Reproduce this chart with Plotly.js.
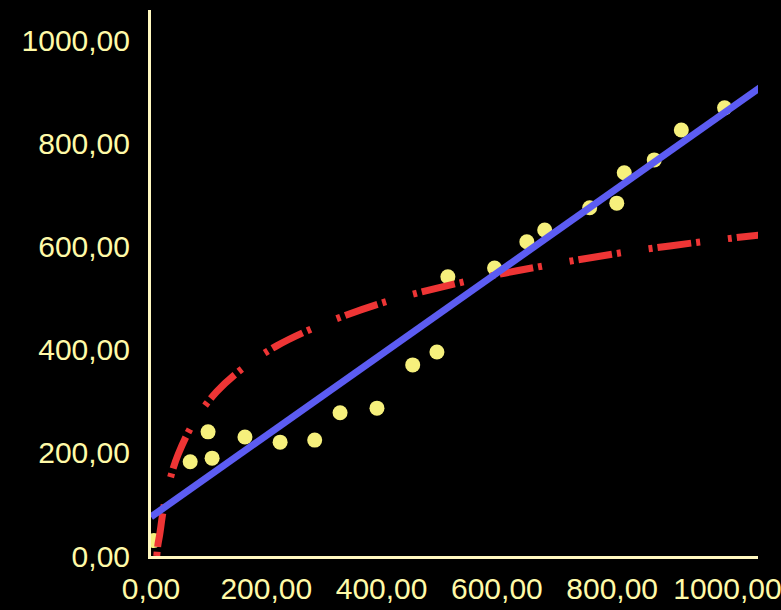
<!DOCTYPE html>
<html>
<head>
<meta charset="utf-8">
<script src="https://cdn.plot.ly/plotly-3.0.1.min.js"></script>
<style>html,body{margin:0;padding:0;background:#000;}#chart{width:781px;height:610px;}</style>
</head>
<body>
<div id="chart"></div>
<script>
// Observed data points
var pointsX = [5, 68, 99, 106, 163, 224, 284, 328, 392, 454, 496, 515, 596, 652, 683, 761, 808, 821, 873, 920, 995];
var pointsY = [30, 183, 241, 190, 231, 221, 225, 278, 287, 371, 396, 542, 559, 610, 633, 676, 685, 744, 769, 827, 870];

// Linear trend line
var linearX = [0, 1070];
var linearY = [76, 920];

// Logarithmic trend curve
var logX = [10, 12, 15, 20, 25, 35, 47, 75, 114, 160, 218, 300, 400, 500, 600, 700, 800, 900, 1000, 1070];
var logY = [0, 22, 41, 80, 111, 157, 197, 261, 319, 365, 408, 451, 491, 521, 546, 567, 586, 602, 616, 625];

var xTicks = [0, 200, 400, 600, 800, 1000];
var yTicks = [0, 200, 400, 600, 800, 1000];

var axisColor = '#fff8c0';
var textColor = '#fffaa8';
var fontFamily = 'Liberation Sans, Arial, sans-serif';

var traces = [
  {
    x: pointsX, y: pointsY, type: 'scatter', mode: 'markers',
    marker: {color: '#f6f07c', size: 15}
  },
  {
    x: logX, y: logY, type: 'scatter', mode: 'lines',
    line: {color: '#ee3535', width: 7, dash: '4px,5px,34px,5px,4px,28px', shape: 'spline'}
  },
  {
    x: linearX, y: linearY, type: 'scatter', mode: 'lines',
    line: {color: '#5c5cf2', width: 7}
  }
];

var layout = {
  width: 781, height: 610,
  paper_bgcolor: '#000', plot_bgcolor: '#000',
  showlegend: false,
  separators: ',.',
  margin: {l: 151, r: 23, t: 10, b: 54, pad: 0},
  font: {family: fontFamily, size: 30, color: textColor},
  xaxis: {
    range: [0, 1053], tickvals: xTicks, tickformat: '.2f',
    showgrid: false, zeroline: false, showline: true,
    linecolor: axisColor, linewidth: 3, ticks: '',
    ticklabelstandoff: 4, ticklabeloverflow: 'allow',
    tickfont: {family: fontFamily, size: 30, color: textColor}
  },
  yaxis: {
    range: [0, 1060], tickvals: yTicks, tickformat: '.2f',
    showgrid: false, zeroline: false, showline: true,
    linecolor: axisColor, linewidth: 3, ticks: '',
    ticklabelstandoff: 12, ticklabeloverflow: 'allow',
    tickfont: {family: fontFamily, size: 30, color: textColor}
  }
};

Plotly.newPlot('chart', traces, layout, {displayModeBar: false, staticPlot: true});
</script>
</body>
</html>
